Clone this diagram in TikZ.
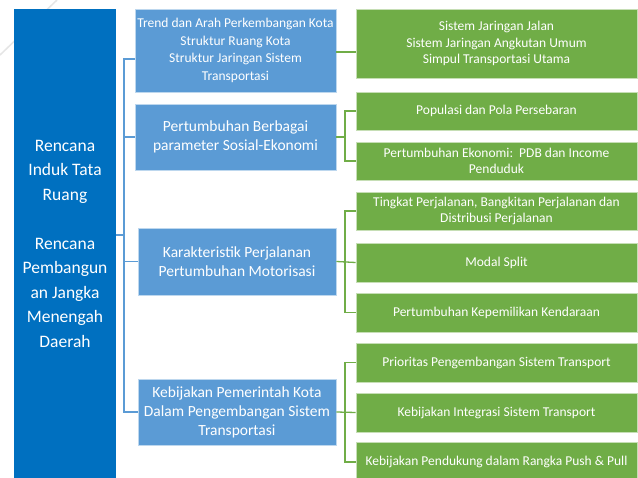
\documentclass[tikz,border=0pt]{standalone}
\usepackage{fontspec}
\setmainfont{Carlito}
\definecolor{dblue}{RGB}{0,112,192}
\definecolor{mblue}{RGB}{91,155,213}
\definecolor{mgreen}{RGB}{112,173,71}
\begin{document}
\begin{tikzpicture}[x=1pt,y=-1pt,
  bigbox/.style={fill=dblue,draw=none,text=white,align=center,inner sep=0pt,
    font=\fontsize{17.5}{24.5}\selectfont},
  midbox/.style={fill=mblue,draw=mblue!40!white,line width=0.8pt,text=white,align=center,inner sep=1pt,
    font=\fontsize{15.5}{19}\selectfont},
  smallmid/.style={font=\fontsize{13.5}{17.5}\selectfont},
  grbox/.style={fill=mgreen,draw=mgreen!40!white,line width=0.8pt,text=white,align=center,inner sep=1pt,
    minimum width=281pt,font=\fontsize{13.5}{16.7}\selectfont},
  bline/.style={draw=mblue,line width=1.3pt},
  gline/.style={draw=mgreen,line width=1.3pt}]
\useasboundingbox (0,0) rectangle (638,478);
\fill[white] (0,0) rectangle (638,478);
\draw[gray!20,line width=1.5pt] (57,0) -- (0,55);
% left
\node[bigbox,minimum width=102pt,minimum height=469pt] (L) at (65,243.5)
  {Rencana\\Induk Tata\\Ruang\\[24.5pt]Rencana\\Pembangun\\an Jangka\\Menengah\\Daerah};
% middle
\node[midbox,smallmid,minimum width=201pt,minimum height=83pt] (M1) at (235.5,50.5)
  {Trend dan Arah Perkembangan Kota\\Struktur Ruang Kota\\Struktur Jaringan Sistem\\Transportasi};
\node[midbox,minimum width=201pt,minimum height=66pt] (M2) at (235.5,137)
  {Pertumbuhan Berbagai\\parameter Sosial-Ekonomi};
\node[midbox,minimum width=198pt,minimum height=67pt] (M3) at (237,261.5)
  {Karakteristik Perjalanan\\Pertumbuhan Motorisasi};
\node[midbox,minimum width=198pt,minimum height=66pt] (M4) at (237,412)
  {Kebijakan Pemerintah Kota\\Dalam Pengembangan Sistem\\Transportasi};
% green
\node[grbox,minimum height=69pt] (G1) at (496.5,43.5)
  {Sistem Jaringan Jalan\\Sistem Jaringan Angkutan Umum\\Simpul Transportasi Utama};
\node[grbox,minimum height=38pt] (G2) at (496.5,111) {Populasi dan Pola Persebaran};
\node[grbox,minimum height=38pt] (G3) at (496.5,161) {Pertumbuhan Ekonomi:\ \ PDB dan Income\\Penduduk};
\node[grbox,minimum height=38pt] (G4) at (496.5,211) {Tingkat Perjalanan, Bangkitan Perjalanan dan\\Distribusi Perjalanan};
\node[grbox,minimum height=39pt] (G5) at (496.5,262.5) {Modal Split};
\node[grbox,minimum height=39pt] (G6) at (496.5,312.5) {Pertumbuhan Kepemilikan Kendaraan};
\node[grbox,minimum height=39pt] (G7) at (496.5,362.5) {Prioritas Pengembangan Sistem Transport};
\node[grbox,minimum height=39pt] (G8) at (496.5,412.5) {Kebijakan Integrasi Sistem Transport};
\node[grbox,minimum height=39pt] (G9) at (496.5,462) {Kebijakan Pendukung dalam Rangka Push \& Pull};
% blue connectors
\coordinate (bt) at (124,235);
\draw[bline] (M1.west|-0,59) -| (bt) |- (M4.west);
\draw[bline] (L.east|-bt) -- (bt);
\draw[bline] (M2.west) -- (M2.west-|bt);
\draw[bline] (M3.west) -- (M3.west-|bt);
% green connectors
\coordinate (ga) at (345,137);
\coordinate (gb) at (345,262);
\coordinate (gc) at (345,412);
\draw[gline] (M1.east|-0,52) -- (G1.west|-0,52);
\draw[gline] (G2.west) -| (ga) |- (G3.west);
\draw[gline] (M2.east) -- (ga);
\draw[gline] (G4.west) -| (gb) |- (G6.west);
\draw[gline] (M3.east) -- (G5.west);
\draw[gline] (G7.west) -| (gc) |- (G9.west);
\draw[gline] (M4.east) -- (G8.west);
\end{tikzpicture}
\end{document}
